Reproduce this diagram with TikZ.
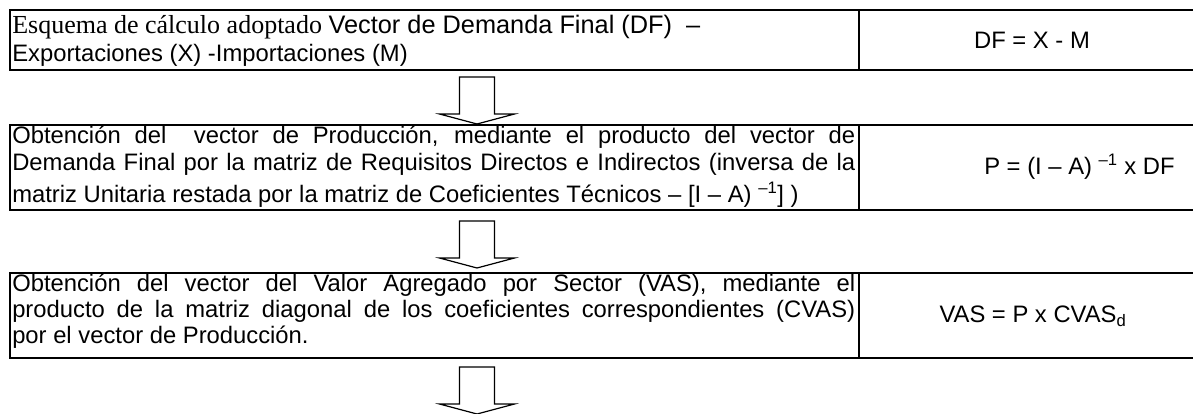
\documentclass[tikz,border=0pt]{standalone}
\usepackage{fontspec}
\setmainfont{Liberation Sans}
\newfontfamily\tnrfont{Liberation Serif}
\newcommand\diafont{\fontsize{17.85pt}{20pt}\selectfont}
\newcommand\firstline{\fontsize{19pt}{22pt}\selectfont}
\newcommand\bigserif{\tnrfont\fontsize{19.5pt}{22pt}\selectfont}
\begin{document}
\begin{tikzpicture}[x=0.75pt,y=-0.75pt,
  box/.style={draw=black,line width=1.5pt,inner sep=0pt},
  divider/.style={draw=black,line width=1.5pt},
  blockarrow/.style={draw=black,line width=0.9pt,fill=white,line join=miter},
  txt/.style={inner sep=0pt,anchor=base west,font=\diafont},
  formula/.style={inner sep=0pt,anchor=base,font=\diafont},
  downarrow/.pic={\draw[blockarrow] (-17.5,0) -- (17.5,0) -- (17.5,37) -- (37.5,37) -- (0,47) -- (-37.5,37) -- (-17.5,37) -- cycle;}]
\useasboundingbox (0,0) rectangle (1193,414);
\begin{scope}
\clip (0,0) rectangle (1193,414);
% boxes
\node[box,anchor=north west,minimum width=896.25pt,minimum height=45pt] (b1) at (9,9) {};
\node[box,anchor=north west,minimum width=896.25pt,minimum height=63.75pt] (b2) at (9,124) {};
\node[box,anchor=north west,minimum width=896.25pt,minimum height=63.75pt] (b3) at (9,272) {};
\draw[divider] (859,9) -- (859,69);
\draw[divider] (859,124) -- (859,209);
\draw[divider] (859,272) -- (859,357);
% arrows
\coordinate (a1) at (477,77);
\coordinate (a2) at (477,221);
\coordinate (a3) at (477,367);
\pic at (a1) {downarrow};
\pic at (a2) {downarrow};
\pic at (a3) {downarrow};
\end{scope}
% box 1 text
\node[txt] (t11) at (12,33) {{\bigserif Esquema de cálculo adoptado} {\firstline Vector de Demanda Final (DF)\ \ –}};
\node[txt] (t12) at (12,61) {Exportaciones (X) -Importaciones (M)};
\node[formula] (f1) at (1032,48) {DF = X - M};
% box 2 text
\node[txt] (t21) at (12,143) {\makebox[632.25pt][s]{Obtención del\ \ vector de Producción, mediante el producto del vector de}};
\node[txt] (t22) at (12,170) {\makebox[632.25pt][s]{Demanda Final por la matriz de Requisitos Directos e Indirectos (inversa de la}};
\node[txt] (t23) at (12,202) {matriz Unitaria restada por la matriz de Coeficientes Técnicos – [I – A) \textsuperscript{–1}] )};
\node[txt] (f2) at (984,174) {P = (I – A) \textsuperscript{–1} x DF};
% box 3 text
\node[txt] (t31) at (12,291) {\makebox[632.25pt][s]{Obtención del vector del Valor Agregado por Sector (VAS), mediante el}};
\node[txt] (t32) at (12,317) {\makebox[632.25pt][s]{producto de la matriz diagonal de los coeficientes correspondientes (CVAS)}};
\node[txt] (t33) at (12,343) {por el vector de Producción.};
\node[formula] (f3) at (1033,322) {VAS = P x CVAS\textsubscript{d}};
\end{tikzpicture}
\end{document}
